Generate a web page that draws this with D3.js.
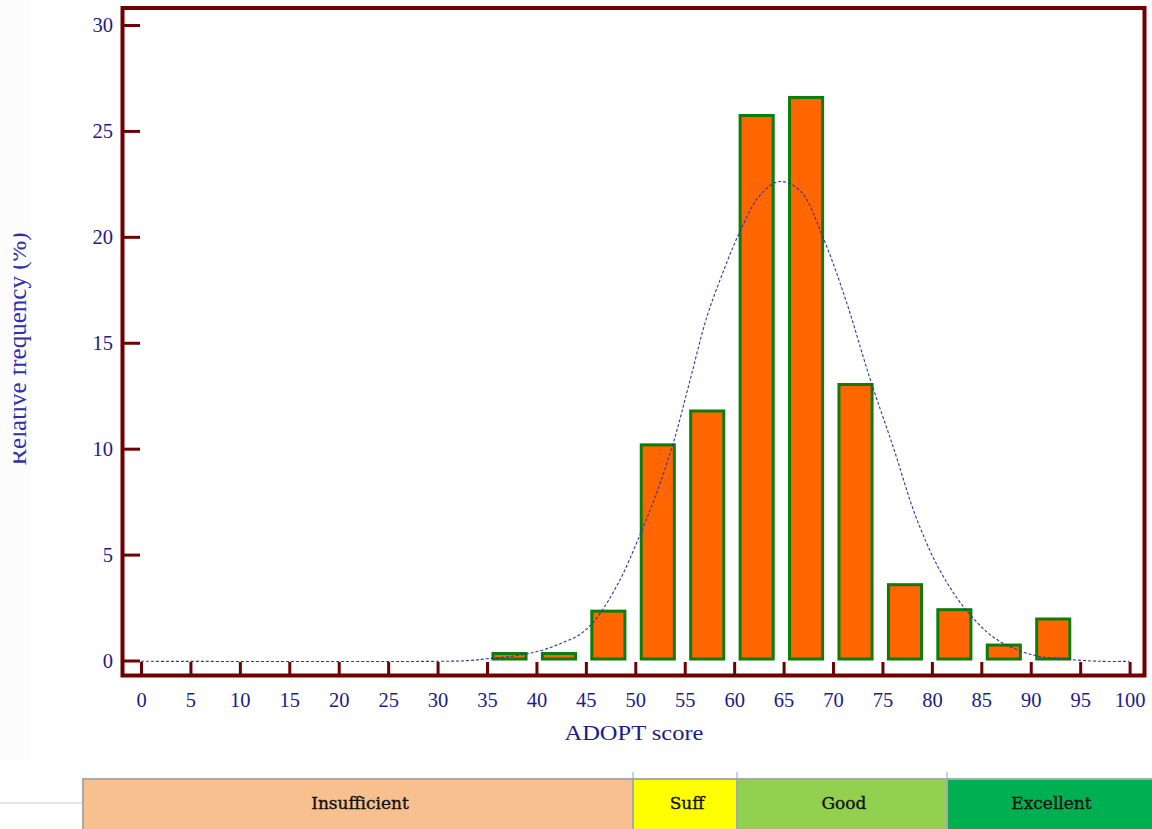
<!DOCTYPE html>
<html>
<head>
<meta charset="utf-8">
<script src="https://cdn.jsdelivr.net/npm/d3@7"></script>
<style>
  body { margin: 0; background: #fff; }
  svg { display: block; }
</style>
</head>
<body>
<svg id="chart" width="1152" height="829"></svg>
<script>
// histogram bins (ADOPT score, width 5) and relative frequency in %
const binStarts = [35, 40, 45, 50, 55, 60, 65, 70, 75, 80, 85, 90];
const binValues = [0.4, 0.4, 2.4, 10.25, 11.85, 25.8, 26.65, 13.1, 3.65, 2.47, 0.8, 2.03];

// fitted curve
const curveX = [0, 30, 33, 35, 38, 40.4, 42.5, 44.5, 46.1, 48.4, 50.5, 52.2, 53.9, 55.5, 57.2, 58.9, 60.5,
  62.6, 64.6, 66.7, 69, 71.4, 73.7, 76.1, 78.4, 80.8, 83.5, 86.5, 90.2, 93.6, 97, 100];
const curveY = [0, 0, 0.03, 0.12, 0.27, 0.5, 0.85, 1.3, 2.05, 3.8, 6.0, 8.0, 10.4, 13.2, 16.2, 18.4, 20.2,
  22.0, 22.65, 22.2, 20.0, 16.9, 13.4, 10.1, 6.8, 4.3, 2.4, 1.05, 0.3, 0.1, 0.0, 0];

const xTicks = d3.range(0, 101, 5);
const yTicks = [0, 5, 10, 15, 20, 25, 30];

const legendLabels = ['Insufficient', 'Suff', 'Good', 'Excellent'];
const legendColors = ['#f8c08f', '#ffff00', '#92d050', '#00b050'];

const frameColor = '#700000',
  labelColor = '#1c1c86';

const svg = d3.select('#chart');

let x = d3.scaleLinear().domain([0, 100]).range([141, 1129.6]),
  y = d3.scaleLinear().domain([0, 30]).range([660.5, 25]);

// faint strip behind the y title
svg.append('rect')
  .attr('x', 0).attr('y', 0).attr('width', 31).attr('height', 760)
  .attr('fill', '#fcfcfc');

// frame
svg.append('rect')
  .attr('x', 122.5).attr('y', 8)
  .attr('width', 1144.5 - 122.5).attr('height', 675.5 - 8)
  .attr('fill', 'none')
  .attr('stroke', frameColor)
  .attr('stroke-width', 4);

// axes
let xAxis = d3.axisBottom(x)
  .tickValues(xTicks)
  .tickSizeInner(14).tickSizeOuter(0)
  .tickPadding(16);

let gx = svg.append('g')
  .attr('class', 'axis axis--x')
  .attr('transform', 'translate(0,662)')
  .call(xAxis);

let yAxis = d3.axisLeft(y)
  .tickValues(yTicks)
  .tickSizeInner(18).tickSizeOuter(0)
  .tickPadding(9);

let gy = svg.append('g')
  .attr('class', 'axis axis--y')
  .attr('transform', 'translate(140,0)')
  .call(yAxis);

[gx, gy].forEach(g => {
  g.select('.domain').remove();
  g.selectAll('.tick line')
    .attr('stroke', frameColor)
    .attr('stroke-width', 3);
  g.selectAll('.tick text')
    .attr('fill', labelColor)
    .style('font-family', '"Liberation Serif", "Times New Roman", serif')
    .style('font-size', '20.5px');
});
gy.selectAll('.tick text').attr('dy', '0.33em');

// bars
let bars = svg.append('g').attr('class', 'bars')
  .selectAll('rect')
  .data(binStarts.map((s, i) => ({lo: s, hi: s + 5, v: binValues[i]})))
  .enter().append('rect')
  .attr('x', d => x(d.lo + 0.45) + 1.5)
  .attr('width', d => x(d.hi - 0.9) - x(d.lo + 0.45) - 3)
  .attr('y', d => y(d.v) + 1.5)
  .attr('height', d => y(0) - y(d.v) - 3)
  .attr('fill', '#ff6600')
  .attr('stroke', '#0b7d0b')
  .attr('stroke-width', 3);

// dashed curve
let line = d3.line()
  .x(d => x(d[0]))
  .y(d => y(d[1]) + 0.8)
  .curve(d3.curveCatmullRom.alpha(0.5));

svg.append('path')
  .datum(curveX.map((cx, i) => [cx, curveY[i]]))
  .attr('d', line)
  .attr('fill', 'none')
  .attr('stroke', '#3434a6')
  .attr('stroke-width', 1.1)
  .attr('stroke-dasharray', '3,2');

// axis titles
svg.append('text')
  .attr('x', 634).attr('y', 740)
  .attr('text-anchor', 'middle')
  .attr('fill', labelColor)
  .attr('textLength', 139)
  .attr('lengthAdjust', 'spacingAndGlyphs')
  .style('font-family', '"Liberation Serif", serif')
  .style('font-size', '20px')
  .text('ADOPT score');

svg.append('clipPath').attr('id', 'yclip')
  .append('rect').attr('x', 13.5).attr('y', 0).attr('width', 40).attr('height', 760);

svg.append('g').attr('clip-path', 'url(#yclip)')
  .append('text')
  .attr('transform', 'translate(25.5,349) rotate(-90)')
  .attr('text-anchor', 'middle')
  .attr('fill', '#3030a8')
  .style('font-family', '"Liberation Serif", serif')
  .style('font-size', '25px')
  .text('Relative frequency (%)');

// score legend strip
const legendEdges = [83, 633, 737, 947, 1156];

svg.append('line')
  .attr('x1', 0).attr('x2', 83).attr('y1', 803).attr('y2', 803)
  .attr('stroke', '#dadada').attr('stroke-width', 1.5);

let leg = svg.append('g').attr('class', 'legend')
  .selectAll('g')
  .data(legendLabels)
  .enter().append('g');

leg.append('rect')
  .attr('x', (d, i) => legendEdges[i])
  .attr('y', 779)
  .attr('width', (d, i) => legendEdges[i + 1] - legendEdges[i])
  .attr('height', 52)
  .attr('fill', (d, i) => legendColors[i])
  .attr('stroke', '#a9a9a9')
  .attr('stroke-width', 2);

leg.append('text')
  .attr('x', (d, i) => (legendEdges[i] + Math.min(legendEdges[i + 1], 1152)) / 2 + 2)
  .attr('y', 809)
  .attr('text-anchor', 'middle')
  .attr('fill', '#111')
  .attr('stroke', '#111')
  .attr('stroke-width', 0.35)
  .style('font-family', '"DejaVu Serif", serif')
  .style('font-size', '17px')
  .text(d => d);

// small markers above the strip boundaries
svg.append('g')
  .selectAll('line')
  .data(legendEdges.slice(1, 4))
  .enter().append('line')
  .attr('x1', d => d).attr('x2', d => d)
  .attr('y1', 772).attr('y2', 780)
  .attr('stroke', '#8aa4c8').attr('stroke-width', 1);
</script>
</body>
</html>
